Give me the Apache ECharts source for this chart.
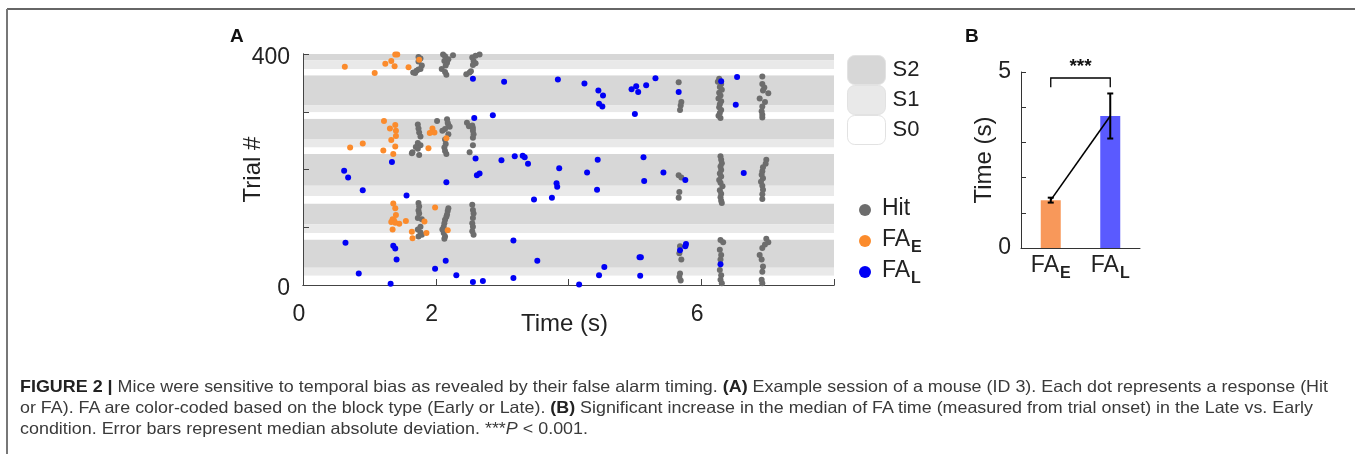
<!DOCTYPE html>
<html>
<head>
<meta charset="utf-8">
<script src="https://cdn.jsdelivr.net/npm/echarts@6/dist/echarts.min.js"></script>
<style>
  html, body { margin: 0; padding: 0; background: #fff; }
  #chart { position: absolute; left: 0; top: 0; width: 1355px; height: 454px; }
  .cap {
    position: absolute; left: 20px; white-space: nowrap;
    font-family: 'Liberation Sans', Arial, sans-serif;
    font-size: 16.5px; line-height: 18px; color: #3a3a3a; transform-origin: 0 0;
  }
  .cap b { color: #222; }
</style>
</head>
<body>
<div id="chart"></div>
<div class="cap" id="cap1" style="top:377px"><b>FIGURE 2 |</b> Mice were sensitive to temporal bias as revealed by their false alarm timing. <b>(A)</b> Example session of a mouse (ID 3). Each dot represents a response (Hit</div>
<div class="cap" id="cap2" style="top:398px">or FA). FA are color-coded based on the block type (Early or Late). <b>(B)</b> Significant increase in the median of FA time (measured from trial onset) in the Late vs. Early</div>
<div class="cap" id="cap3" style="top:419px">condition. Error bars represent median absolute deviation. ***<i>P</i> &lt; 0.001.</div>

<script>
// ---- panel A: trial blocks (background bands) ----
const bandFrom  = [0, 16, 30, 79, 90, 105, 141, 154, 172, 227, 238, 253, 288, 299, 311, 363, 374, 389];
const bandTo    = [16, 30, 79, 90, 105, 141, 154, 172, 227, 238, 253, 288, 299, 311, 363, 374, 389, 400];
const bandState = ['S0','S1','S2','S0','S1','S2','S0','S1','S2','S0','S1','S2','S0','S1','S2','S0','S1','S2'];
const stateNames  = ['S2', 'S1', 'S0'];
const stateColors = ['#d7d7d7', '#e9e9e9', '#ffffff'];

// ---- panel A: responses [time (s), trial #] ----
const hitPoints = [
  [1.74,395],[1.77,392],[1.74,387],[1.79,380],[1.77,374],[1.74,373],[1.71,371],[1.69,367],[1.66,368],
  [2.11,399],[2.14,396],[2.13,388],[2.17,385],[2.15,380],[2.09,374],[2.14,369],[2.16,364],[2.26,398],[2.19,391],
  [2.66,399],[2.60,397],[2.55,394],[2.57,388],[2.60,384],[2.56,381],[2.51,368],[2.46,365],[2.53,370],
  [1.73,278],[1.74,271],[1.75,264],[1.77,257],[1.73,246],[1.77,242],[1.70,239],[1.65,230],[1.64,228],[1.75,225],[1.73,236],
  [2.02,284],[2.17,287],[2.18,281],[2.19,277],[2.21,274],[2.14,270],[2.10,267],[2.19,261],[2.14,252],[2.15,244],[2.13,238],[2.14,232],[2.16,227],
  [2.47,281],[2.50,275],[2.55,276],[2.56,272],[2.56,267],[2.57,261],[2.56,255],[2.56,242],[2.51,230],
  [1.74,142],[1.75,136],[1.74,129],[1.75,124],[1.73,116],[1.79,114],[1.77,101],[1.73,96],[1.77,91],[1.79,87],[1.74,84],
  [2.19,133],[2.18,128],[2.17,122],[2.16,118],[2.14,113],[2.13,107],[2.12,101],[2.10,96],[2.12,90],[2.14,84],[2.13,80],
  [2.55,139],[2.56,130],[2.57,124],[2.56,116],[2.55,107],[2.56,101],[2.55,93],[2.57,87],
  [5.66,351],[5.70,317],[5.69,311],[5.68,303],
  [6.27,357],[6.25,352],[6.30,348],[6.28,343],[6.31,338],[6.27,333],[6.29,328],[6.26,323],[6.30,318],[6.28,313],[6.27,308],[6.30,303],[6.28,298],[6.26,293],[6.29,289],
  [6.92,361],[6.92,348],[6.95,342],[6.93,337],[7.01,332],[6.88,323],[6.96,317],[6.92,309],[6.91,301],[6.92,295],[6.92,290],
  [5.66,190],[5.70,186],[5.67,161],[5.66,151],
  [6.29,223],[6.30,217],[6.31,211],[6.29,205],[6.30,199],[6.28,193],[6.30,188],[6.27,182],[6.29,177],[6.32,171],[6.28,164],[6.30,158],[6.29,152],[6.30,146],[6.31,142],
  [6.98,217],[6.97,210],[6.93,204],[6.92,197],[6.91,191],[6.93,185],[6.90,179],[6.92,172],[6.93,165],[6.92,157],[6.92,149],
  [5.68,67],[5.67,55],[5.70,44],[5.68,20],[5.67,14],[5.69,8],
  [6.29,78],[6.33,74],[6.28,61],[6.30,52],[6.29,44],[6.28,26],[6.30,17],[6.29,9],[6.31,3],
  [6.98,80],[7.01,74],[6.96,70],[6.92,64],[6.88,52],[6.91,44],[6.93,32],[6.92,23],[6.91,9],[6.92,3]
];
const earlyFaPoints = [
  [0.63,378],[1.08,367],[1.24,383],[1.33,388],[1.38,379],[1.39,399],[1.42,399],[1.59,377],[1.75,390],
  [1.22,284],[1.39,277],[1.31,271],[1.40,267],[1.40,258],[1.33,251],[1.39,240],[0.71,238],[0.90,245],[1.21,233],[1.36,227],
  [1.95,271],[1.98,264],[1.91,263],[2.16,254],[1.89,237],
  [1.36,141],[1.39,133],[1.40,121],[1.35,114],[1.37,112],[1.33,109],[1.39,108],[1.45,106],[1.55,111],[1.35,96],
  [1.99,134],[1.83,110],[1.64,92],[1.65,81],[1.86,90],[2.18,95]
];
const lateFaPoints = [
  [2.56,357],[3.03,352],[3.84,356],[4.24,349],[4.45,337],[4.52,328],[4.46,314],[4.51,309],[4.95,339],[5.02,344],
  [5.05,334],[5.17,346],[5.31,358],[5.00,296],[5.66,334],[6.30,353],[6.54,360],[6.52,312],[2.86,294],[2.58,289],
  [2.60,219],[2.99,216],[3.19,223],[3.31,224],[3.34,221],[3.39,210],[1.34,213],[0.62,198],[0.68,186],[2.62,190],
  [2.66,193],[0.90,164],[1.56,155],[2.16,178],[3.48,148],[3.86,202],[4.28,195],[4.44,217],[5.13,221],[5.43,195],
  [6.64,194],[3.82,176],[3.83,170],[3.75,151],[4.43,165],[5.14,180],[5.76,182],
  [0.64,73],[1.36,68],[1.39,63],[1.41,44],[2.15,42],[1.99,28],[0.84,20],[2.31,17],[3.17,77],[3.17,12],
  [2.56,5],[2.71,7],[1.32,2],[3.53,42],[4.54,31],[4.46,17],[4.16,1],[5.07,48],[5.09,48],[5.08,16],
  [5.68,60],[5.76,67],[5.77,71],[6.29,36]
];
const xTickLabels = [0, 2, 6];
const yTickLabels = [0, 400];

// ---- panel B: median FA time ----
const barCats    = ['FA_E', 'FA_L'];
const barMedian  = [1.36, 3.75];
const barMad     = [0.07, 0.64];
const barColors  = ['#f8985a', '#5a5aff'];
const bTickLabels = [0, 5];
const sigLevel = 4.83, sigDrop = 4.57, sigText = '***';

const FONT = '"Liberation Sans", Arial, sans-serif';
const richSub = {
  a: { fontSize: 23, fontFamily: FONT, color: '#222', lineHeight: 26, verticalAlign: 'top' },
  b: { fontSize: 16, fontFamily: FONT, fontWeight: 'bold', color: '#222', lineHeight: 16, verticalAlign: 'top', padding: [12, 0, 0, 1] }
};
function subLabel(name) {
  const parts = name.split('_');
  return parts.length > 1 ? '{a|' + parts[0] + '}{b|' + parts[1] + '}' : '{a|' + name + '}';
}

const chart = echarts.init(document.getElementById('chart'));

function renderBand(params, api) {
  const p0 = api.coord([0, api.value(1)]);
  const p1 = api.coord([8, api.value(0)]);
  return {
    type: 'rect',
    shape: { x: p0[0], y: p0[1], width: p1[0] - p0[0], height: p1[1] - p0[1] },
    style: { fill: api.visual('color') }
  };
}
const bandSeries = stateNames.map((s, k) => ({
  name: s,
  type: 'custom',
  xAxisIndex: 0, yAxisIndex: 0,
  silent: true, z: 1,
  itemStyle: { color: stateColors[k] },
  renderItem: renderBand,
  data: bandFrom.map((f, i) => [f, bandTo[i], bandState[i]]).filter(d => d[2] === s).map(d => [d[0], d[1]])
}));

const axisCol = '#444';
const option = {
  animation: false,
  grid: [
    { left: 303, top: 54, width: 531, height: 231 },
    { left: 1021, top: 72, width: 119, height: 176 }
  ],
  xAxis: [
    {
      gridIndex: 0, type: 'value', min: 0, max: 8, interval: 2, z: 3,
      axisLine: { lineStyle: { color: axisCol } },
      axisTick: { inside: true, length: 6, lineStyle: { color: axisCol } },
      splitLine: { show: false },
      axisLabel: { fontSize: 23, fontFamily: FONT, color: '#222', margin: 18, padding: [0, 8, 0, 0],
        formatter: v => xTickLabels.includes(v) ? String(v) : '' },
      name: 'Time (s)', nameLocation: 'middle', nameGap: 27, nameMoveOverlap: false,
      nameTextStyle: { fontSize: 24, fontFamily: FONT, color: '#222', padding: [0, 8, 0, 0] }
    },
    {
      gridIndex: 0, type: 'value', min: 0, max: 8, position: 'top', z: 3,
      axisLine: { show: true, lineStyle: { color: axisCol } },
      axisTick: { show: false }, axisLabel: { show: false }, splitLine: { show: false }
    },
    {
      gridIndex: 1, type: 'category', data: barCats,
      axisLine: { lineStyle: { color: '#333' } },
      axisTick: { show: false },
      axisLabel: { margin: 6, interval: 0, formatter: subLabel, rich: richSub }
    }
  ],
  yAxis: [
    {
      gridIndex: 0, type: 'value', min: 0, max: 400, interval: 100, z: 3,
      axisLine: { show: true, lineStyle: { color: axisCol } },
      axisTick: { show: true, inside: true, length: 6, lineStyle: { color: axisCol } },
      splitLine: { show: false },
      axisLabel: { fontSize: 23, fontFamily: FONT, color: '#222', margin: 13,
        verticalAlign: 'top', lineHeight: 8,
        formatter: v => yTickLabels.includes(v) ? String(v) : '' },
      name: 'Trial #', nameLocation: 'middle', nameRotate: 90, nameGap: 38, nameMoveOverlap: false,
      nameTextStyle: { fontSize: 24, fontFamily: FONT, color: '#222' }
    },
    {
      gridIndex: 0, type: 'value', min: 0, max: 400, position: 'right', z: 3,
      axisLine: { show: true, lineStyle: { color: axisCol } },
      axisTick: { show: false }, axisLabel: { show: false }, splitLine: { show: false }
    },
    {
      gridIndex: 1, type: 'value', min: 0, max: 5, interval: 1,
      axisLine: { show: true, lineStyle: { color: '#333' } },
      axisTick: { show: true, inside: true, length: 5, lineStyle: { color: '#333' } },
      splitLine: { show: false },
      axisLabel: { fontSize: 23, fontFamily: FONT, color: '#222', margin: 10,
        formatter: v => bTickLabels.includes(v) ? String(v) : '' },
      name: 'Time (s)', nameLocation: 'middle', nameRotate: 90, nameGap: 25, nameMoveOverlap: false,
      nameTextStyle: { fontSize: 24, fontFamily: FONT, color: '#222' }
    }
  ],
  legend: [
    {
      data: stateNames, orient: 'vertical', left: 847, top: 55, padding: 0, itemGap: 0,
      itemWidth: 38, itemHeight: 29, icon: 'roundRect',
      itemStyle: { borderColor: '#e2e2e2', borderWidth: 1 },
      textStyle: { fontSize: 22, fontFamily: FONT, color: '#222', padding: [0, 0, 0, 2] },
      selectedMode: false
    },
    { data: ['Hit'], left: 859, top: 197, padding: 0, itemWidth: 12, itemHeight: 12, icon: 'circle',
      formatter: subLabel, textStyle: { rich: richSub, padding: [0, 0, 0, 6] }, selectedMode: false },
    { data: ['FA_E'], left: 859, top: 228, padding: 0, itemWidth: 12, itemHeight: 12, icon: 'circle',
      formatter: subLabel, textStyle: { rich: richSub, padding: [0, 0, 0, 6] }, selectedMode: false },
    { data: ['FA_L'], left: 859, top: 259, padding: 0, itemWidth: 12, itemHeight: 12, icon: 'circle',
      formatter: subLabel, textStyle: { rich: richSub, padding: [0, 0, 0, 6] }, selectedMode: false }
  ],
  graphic: [
    { type: 'line', shape: { x1: 7, y1: 9, x2: 1355, y2: 9 }, style: { stroke: '#666', lineWidth: 2 } },
    { type: 'line', shape: { x1: 7, y1: 9, x2: 7, y2: 454 }, style: { stroke: '#777', lineWidth: 2 } },
    { type: 'text', left: 230, top: 27, style: { text: 'A', font: 'bold 19px ' + FONT, fill: '#111' } },
    { type: 'text', left: 965, top: 27, style: { text: 'B', font: 'bold 19px ' + FONT, fill: '#111' } }
  ],
  series: [
    ...bandSeries,
    { name: 'Hit', type: 'scatter', xAxisIndex: 0, yAxisIndex: 0, z: 4, symbolSize: 6,
      itemStyle: { color: '#6d6d6d', opacity: 1 }, data: hitPoints },
    { name: 'FA_E', type: 'scatter', xAxisIndex: 0, yAxisIndex: 0, z: 5, symbolSize: 6,
      itemStyle: { color: '#fb8b2c', opacity: 1 }, data: earlyFaPoints },
    { name: 'FA_L', type: 'scatter', xAxisIndex: 0, yAxisIndex: 0, z: 6, symbolSize: 6,
      itemStyle: { color: '#0000f5', opacity: 1 }, data: lateFaPoints },
    { type: 'bar', xAxisIndex: 2, yAxisIndex: 2, barWidth: 20, silent: true,
      data: barMedian.map((v, i) => ({ value: v, itemStyle: { color: barColors[i] } })) },
    { type: 'line', xAxisIndex: 2, yAxisIndex: 2, symbol: 'none', silent: true, z: 5,
      lineStyle: { color: '#000', width: 1.6 }, data: barMedian },
    { type: 'custom', xAxisIndex: 2, yAxisIndex: 2, silent: true, z: 6,
      data: barMedian.map((m, i) => [i, m - barMad[i], m + barMad[i]]),
      renderItem: function (params, api) {
        const hi = api.coord([api.value(0), api.value(2)]);
        const lo = api.coord([api.value(0), api.value(1)]);
        const st = { stroke: '#000', lineWidth: 2 };
        return { type: 'group', children: [
          { type: 'line', shape: { x1: hi[0], y1: hi[1], x2: lo[0], y2: lo[1] }, style: st },
          { type: 'line', shape: { x1: hi[0] - 3, y1: hi[1], x2: hi[0] + 3, y2: hi[1] }, style: st },
          { type: 'line', shape: { x1: lo[0] - 3, y1: lo[1], x2: lo[0] + 3, y2: lo[1] }, style: st }
        ] };
      } },
    { type: 'custom', xAxisIndex: 2, yAxisIndex: 2, silent: true, z: 6,
      data: [[0, sigLevel, 1, sigDrop]],
      renderItem: function (params, api) {
        const a = api.coord([api.value(0), api.value(3)]);
        const b = api.coord([api.value(0), api.value(1)]);
        const c = api.coord([api.value(2), api.value(1)]);
        const d = api.coord([api.value(2), api.value(3)]);
        return { type: 'group', children: [
          { type: 'polyline', shape: { points: [a, b, c, d] }, style: { stroke: '#000', lineWidth: 1.3, fill: null } },
          { type: 'text', style: { x: (b[0] + c[0]) / 2, y: b[1] - 2, text: sigText, textAlign: 'center',
            textVerticalAlign: 'bottom', font: 'bold 19px ' + FONT, fill: '#111' } }
        ] };
      } }
  ]
};
chart.setOption(option);

// fit caption lines to the printed widths
function fitCaption() {
  const c1 = document.getElementById('cap1');
  const c2 = document.getElementById('cap2');
  const c3 = document.getElementById('cap3');
  const s1 = 1308 / c1.getBoundingClientRect().width;
  const s2 = 1293 / c2.getBoundingClientRect().width;
  c1.style.transform = 'scaleX(' + s1 + ')';
  c2.style.transform = 'scaleX(' + s2 + ')';
  c3.style.transform = 'scaleX(' + s1 + ')';
}
fitCaption();
</script>
</body>
</html>
